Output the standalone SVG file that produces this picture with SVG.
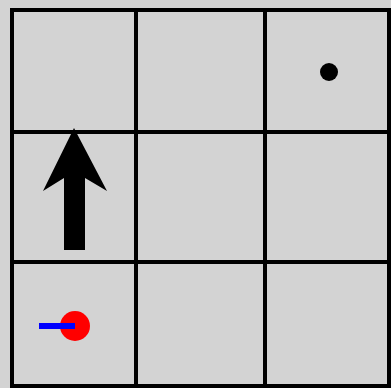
<svg xmlns="http://www.w3.org/2000/svg" width="391" height="388" viewBox="0 0 391 388">
<style>
.grid line{stroke:#000;stroke-width:4;stroke-linecap:square}
</style>
<rect width="391" height="388" fill="#d3d3d3"/>
<g id="grid" class="grid">
<line x1="12" y1="10" x2="12" y2="386"/>
<line x1="136" y1="10" x2="136" y2="386"/>
<line x1="265" y1="10" x2="265" y2="386"/>
<line x1="389" y1="10" x2="389" y2="386"/>
<line x1="12" y1="10" x2="389" y2="10"/>
<line x1="12" y1="132" x2="389" y2="132"/>
<line x1="12" y1="262" x2="389" y2="262"/>
<line x1="12" y1="386" x2="389" y2="386"/>
</g>
<g id="arrow">
<polygon points="74,128 107,191 85,178 85,250 64,250 64,178 43,191" fill="#000"/>
</g>
<g id="goal">
<circle cx="329" cy="72" r="9" fill="#000"/>
</g>
<g id="agent">
<circle cx="75" cy="326" r="15" fill="#f00"/>
<line x1="39" y1="326" x2="75" y2="326" stroke="#00f" stroke-width="6"/>
</g>
</svg>
